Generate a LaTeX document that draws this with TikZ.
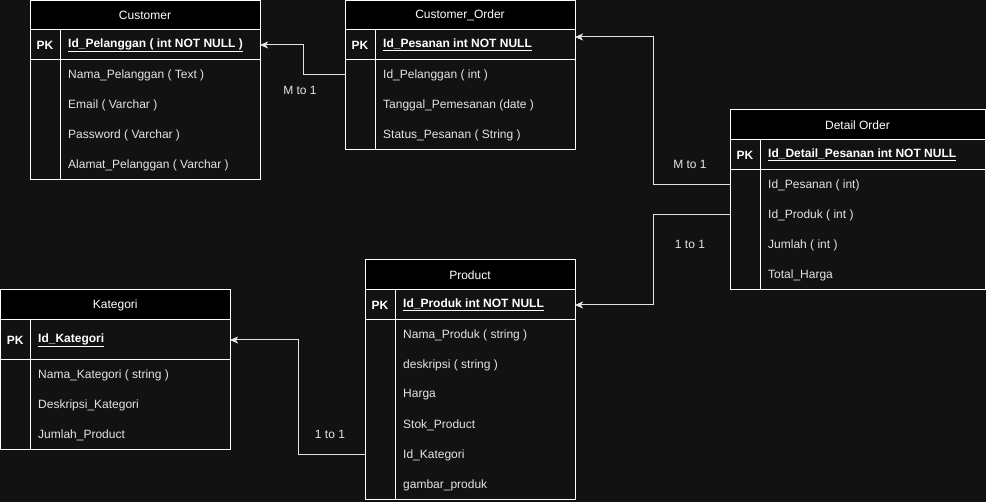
\documentclass[tikz,border=0pt]{standalone}
\usepackage{fontspec}
\setmainfont{Liberation Sans}
\usetikzlibrary{arrows.meta}
\definecolor{bg}{HTML}{121212}
\definecolor{fg}{HTML}{E4E4E4}

\begin{document}
\begin{tikzpicture}[x=1pt, y=-1pt, font=\fontsize{12}{14}\selectfont,
    box/.style={draw=white, line width=1pt, anchor=north west, inner sep=0pt, outer sep=0pt, text=white},
    hdr/.style={box, fill=black},
    fld/.style={anchor=west, inner sep=0pt, text=fg},
    key/.style={fld, text=white, font=\fontsize{12}{14}\selectfont\bfseries},
    conn/.style={draw=fg, line width=1pt, -{Stealth[length=8pt, width=7pt, inset=2pt]}},
    lbl/.style={text=fg, inner sep=0pt}]
        \useasboundingbox (0,0) rectangle (986,502);
        \fill[bg] (0,0) rectangle (986,502);

        % Customer
        \node[hdr, minimum width=230pt, minimum height=29.5pt] (cust) at (30,0.5) {Customer};
        \node[box, minimum width=230pt, minimum height=30pt] (custpk) at (30,30) {};
        \node[box, minimum width=30pt, minimum height=30pt] (custpkc) at (30,30) {\bfseries PK};
        \node[box, minimum width=230pt, minimum height=120pt] (custbody) at (30,60) {};
        \node[box, minimum width=30pt, minimum height=120pt] (custcol) at (30,60) {};
        \node[key] (custk) at (68,45) {\underline{Id\_Pelanggan ( int NOT NULL )}};
        \node[fld] (custf1) at (68,75) {Nama\_Pelanggan ( Text )};
        \node[fld] (custf2) at (68,105) {Email ( Varchar )};
        \node[fld] (custf3) at (68,135) {Password ( Varchar )};
        \node[fld] (custf4) at (68,165) {Alamat\_Pelanggan ( Varchar )};

        % Customer_Order
        \node[hdr, minimum width=230pt, minimum height=29.5pt] (ord) at (345,0.5) {Customer\_Order};
        \node[box, minimum width=230pt, minimum height=30pt] (ordpk) at (345,30) {};
        \node[box, minimum width=30pt, minimum height=30pt] (ordpkc) at (345,30) {\bfseries PK};
        \node[box, minimum width=230pt, minimum height=90pt] (ordbody) at (345,60) {};
        \node[box, minimum width=30pt, minimum height=90pt] (ordcol) at (345,60) {};
        \node[key] (ordk) at (383,45) {\underline{Id\_Pesanan int NOT NULL}};
        \node[fld] (ordf1) at (383,75) {Id\_Pelanggan ( int )};
        \node[fld] (ordf2) at (383,105) {Tanggal\_Pemesanan (date )};
        \node[fld] (ordf3) at (383,135) {Status\_Pesanan ( String )};

        % Detail Order
        \node[hdr, minimum width=255pt, minimum height=30pt] (det) at (730,110) {Detail Order};
        \node[box, minimum width=255pt, minimum height=30pt] (detpk) at (730,140) {};
        \node[box, minimum width=30pt, minimum height=30pt] (detpkc) at (730,140) {\bfseries PK};
        \node[box, minimum width=255pt, minimum height=120pt] (detbody) at (730,170) {};
        \node[box, minimum width=30pt, minimum height=120pt] (detcol) at (730,170) {};
        \node[key] (detk) at (768,155) {\underline{Id\_Detail\_Pesanan int NOT NULL}};
        \node[fld] (detf1) at (768,185) {Id\_Pesanan ( int)};
        \node[fld] (detf2) at (768,215) {Id\_Produk ( int )};
        \node[fld] (detf3) at (768,245) {Jumlah ( int )};
        \node[fld] (detf4) at (768,275) {Total\_Harga};

        % Product
        \node[hdr, minimum width=210pt, minimum height=30pt] (prod) at (365,260) {Product};
        \node[box, minimum width=210pt, minimum height=30pt] (prodpk) at (365,290) {};
        \node[box, minimum width=30pt, minimum height=30pt] (prodpkc) at (365,290) {\bfseries PK};
        \node[box, minimum width=210pt, minimum height=180pt] (prodbody) at (365,320) {};
        \node[box, minimum width=30pt, minimum height=180pt] (prodcol) at (365,320) {};
        \node[key] (prodk) at (403,305) {\underline{Id\_Produk int NOT NULL}};
        \node[fld] (prodf1) at (403,335) {Nama\_Produk ( string )};
        \node[fld] (prodf2) at (403,365) {deskripsi ( string )};
        \node[fld] (prodf3) at (403,395) {Harga};
        \node[fld] (prodf4) at (403,425) {Stok\_Product};
        \node[fld] (prodf5) at (403,455) {Id\_Kategori};
        \node[fld] (prodf6) at (403,485) {gambar\_produk};

        % Kategori
        \node[hdr, minimum width=229.5pt, minimum height=30pt] (kat) at (0.5,290) {Kategori};
        \node[box, minimum width=229.5pt, minimum height=40pt] (katpk) at (0.5,320) {};
        \node[box, minimum width=29.5pt, minimum height=40pt] (katpkc) at (0.5,320) {\bfseries PK};
        \node[box, minimum width=229.5pt, minimum height=90pt] (katbody) at (0.5,360) {};
        \node[box, minimum width=29.5pt, minimum height=90pt] (katcol) at (0.5,360) {};
        \node[key] (katk) at (38,340) {\underline{Id\_Kategori}};
        \node[fld] (katf1) at (38,375) {Nama\_Kategori ( string )};
        \node[fld] (katf2) at (38,405) {Deskripsi\_Kategori};
        \node[fld] (katf3) at (38,435) {Jumlah\_Product};

        % relations
        \draw[conn] (ordbody.west |- ordf1) -- ++(-42,0) |- (custpk.east);
        \draw[conn] (detbody.west |- detf1) -- ++(-77,0) |- ([yshift=8pt]ordpk.east);
        \draw[conn] (detbody.west |- detf2) -- ++(-77,0) |- (prodpk.east);
        \draw[conn] (prodbody.west |- prodf5) -- ++(-67,0) |- (katpk.east);
        \node[lbl] (rel1) at (300,90) {M to 1};
        \node[lbl] (rel2) at (690,164) {M to 1};
        \node[lbl] (rel3) at (690,244) {1 to 1};
        \node[lbl] (rel4) at (330,434) {1 to 1};
    \end{tikzpicture}
\end{document}
